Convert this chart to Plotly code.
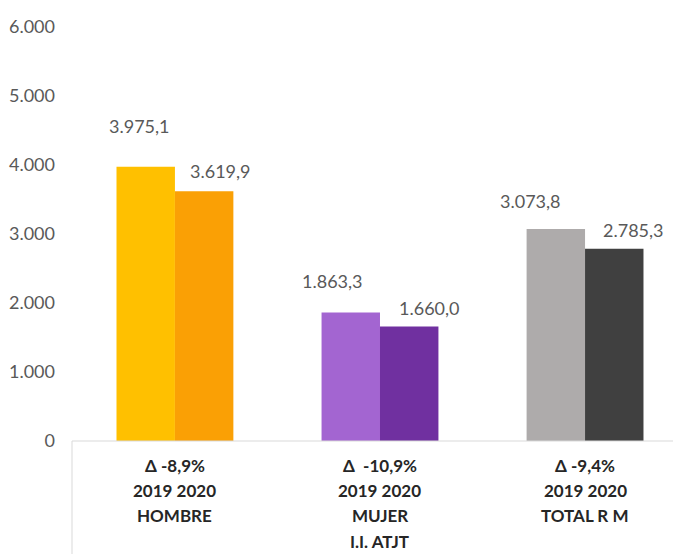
import plotly.graph_objects as go

categories = ["HOMBRE", "MUJER", "TOTAL R M"]
deltas = ["Δ -8,9%", "Δ  -10,9%", "Δ -9,4%"]
years_label = "2019 2020"
axis_title = "I.I. ATJT"
values_2019 = [3975.1, 1863.3, 3073.8]
values_2020 = [3619.9, 1660.0, 2785.3]
y_ticks = [0, 1000, 2000, 3000, 4000, 5000, 6000]

colors_2019 = ["#FFC000", "#A365D1", "#AEABAB"]
colors_2020 = ["#FAA005", "#7030A0", "#404040"]

# label offsets in px (x from group centre, y above bar top)
off_2019 = [(-35, 41), (-47, 31), (-55, 28)]
off_2020 = [(46, 20), (50, 18), (48, 19)]

FONT = "Lato, Liberation Sans, sans-serif"
GREY = "#595959"


def fmt(v):
    s = f"{v:,.1f}"
    return s.replace(",", "X").replace(".", ",").replace("X", ".")


x = list(range(len(categories)))

fig = go.Figure()
fig.add_trace(go.Bar(x=x, y=values_2019, marker_color=colors_2019, marker_line_width=0, name="2019"))
fig.add_trace(go.Bar(x=x, y=values_2020, marker_color=colors_2020, marker_line_width=0, name="2020"))

for i in x:
    for vals, offs in ((values_2019, off_2019), (values_2020, off_2020)):
        fig.add_annotation(
            x=i, y=vals[i], text=fmt(vals[i]), showarrow=False,
            xshift=offs[i][0], yshift=offs[i][1], yanchor="middle",
            font=dict(family=FONT, size=18, color=GREY),
        )
    for j, line in enumerate([deltas[i], years_label, categories[i]]):
        fig.add_annotation(
            x=i, y=0, text=f"<b>{line}</b>", showarrow=False,
            yshift=-(24 + 25 * j), yanchor="middle",
            font=dict(family=FONT, size=17, color="#262626"),
        )

fig.add_annotation(
    x=1, y=0, text=f"<b>{axis_title}</b>", showarrow=False,
    yshift=-100, yanchor="middle",
    font=dict(family=FONT, size=17, color="#262626"),
)

# category axis frame
fig.add_shape(type="line", xref="paper", yref="paper", x0=0, x1=1, y0=0, y1=0,
              line=dict(color="#D9D9D9", width=1))
fig.add_shape(type="line", xref="paper", yref="paper", x0=0, x1=0, y0=0, y1=-0.3,
              line=dict(color="#D9D9D9", width=1))

# page body adds an 8px offset, so the figure is sized to fill the rest
fig.update_layout(
    width=673, height=546,
    margin=dict(l=64, r=0, t=19, b=113),
    barmode="group", bargap=0.43, bargroupgap=0,
    showlegend=False,
    plot_bgcolor="white", paper_bgcolor="white",
    separators=",.",
    font=dict(family=FONT, color=GREY),
)
fig.update_xaxes(range=[-0.502, 2.468], showticklabels=False, showgrid=False,
                 zeroline=False, showline=False, automargin=False)
fig.update_yaxes(range=[0, 6000], tickvals=y_ticks, tickformat=",d", showgrid=False,
                 zeroline=False, showline=False, ticks="", ticklabelstandoff=16,
                 automargin=False,
                 tickfont=dict(family=FONT, size=18, color=GREY))

fig.write_html("out.html")
